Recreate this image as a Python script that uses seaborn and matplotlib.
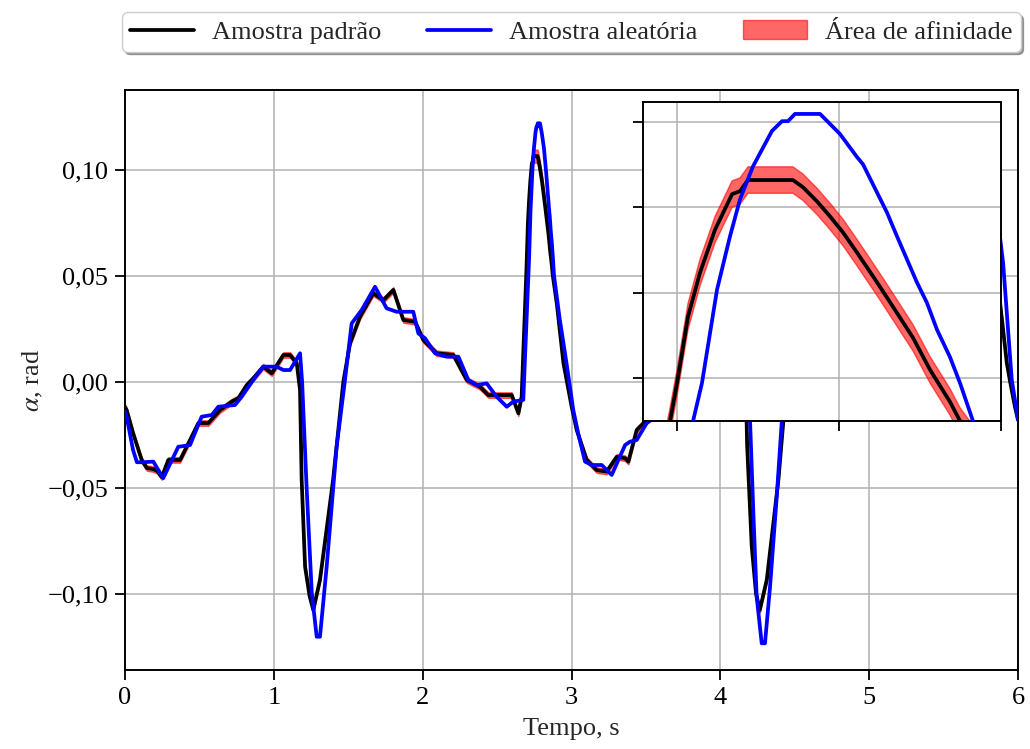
import matplotlib
matplotlib.use("Agg")
import numpy as np
import pandas as pd
import matplotlib.pyplot as plt
import seaborn as sns
from matplotlib.ticker import FuncFormatter

# ---------------- data ----------------
t_padrao = [0.0, 0.011, 0.054, 0.112, 0.146, 0.188, 0.215, 0.247, 0.291, 0.37, 0.437, 0.493, 0.56,
            0.638, 0.717, 0.761, 0.818, 0.862, 0.929, 0.986, 1.064, 1.109, 1.154, 1.176, 1.187,
            1.21, 1.24, 1.265, 1.31, 1.398, 1.467, 1.512, 1.579, 1.668, 1.736, 1.803, 1.87,
            1.949, 2.004, 2.094, 2.206, 2.296, 2.385, 2.441, 2.598, 2.643, 2.665, 2.6957, 2.7,
            2.7068, 2.7142, 2.7235, 2.734, 2.7389, 2.7438, 2.7716, 2.7778, 2.7864, 2.7944,
            2.8025, 2.8111, 2.8235, 2.8333, 2.8457, 2.8562, 2.8685, 2.8747, 2.901, 2.946,
            3.001, 3.035, 3.102, 3.169, 3.236, 3.304, 3.36, 3.382, 3.438, 3.483, 3.56, 3.64,
            3.72, 3.82, 3.93, 4.0, 4.07, 4.11, 4.155, 4.172, 4.18, 4.211, 4.24, 4.265, 4.312,
            4.39, 4.423, 4.46, 4.51, 4.58, 4.67, 4.74, 4.8, 4.87, 4.95, 5.0, 5.09, 5.2, 5.3,
            5.38, 5.44, 5.6, 5.64, 5.665, 5.70, 5.72, 5.745, 5.77, 5.8, 5.84, 5.88, 5.925,
            5.947, 5.98, 6.0]
alpha_padrao = [-0.012, -0.0134, -0.0242, -0.0369, -0.0407, -0.0412, -0.042, -0.045, -0.0369,
                -0.0369, -0.0275, -0.0195, -0.0195, -0.0134, -0.0094, -0.0078, -0.0016, 0.0016,
                0.0071, 0.004, 0.0126, 0.0126, 0.0087, -0.004, -0.0464, -0.0873, -0.101,
                -0.1077, -0.0935, -0.0464, 0.0, 0.0181, 0.0307, 0.0417, 0.0385, 0.0433, 0.0291,
                0.0283, 0.0197, 0.0134, 0.0126, 0.0008, -0.0024, -0.0063, -0.0063, -0.0149,
                -0.0071, 0.0499, 0.0588, 0.0744, 0.0847, 0.0948, 0.1031, 0.1038, 0.1064,
                0.1064, 0.1047, 0.1014, 0.0979, 0.0941, 0.0894, 0.0824, 0.0767, 0.0694, 0.0619,
                0.0544, 0.0499, 0.037, 0.0087, -0.0118, -0.0228, -0.0369, -0.0417, -0.0424,
                -0.0354, -0.0361, -0.0377, -0.0228, -0.0196, -0.0134, -0.011, -0.008, -0.002,
                0.006, 0.004, 0.012, 0.012, 0.0087, -0.004, -0.03, -0.0778, -0.100, -0.1077,
                -0.0935, -0.0464, -0.0189, 0.0, 0.018, 0.031, 0.042, 0.038, 0.043, 0.029, 0.028,
                0.02, 0.013, 0.012, 0.001, -0.002, -0.006, -0.006, -0.014, -0.007, 0.06, 0.085,
                0.104, 0.107, 0.1, 0.076, 0.037, 0.0087, 0.0, -0.012, -0.018]

t_aleatoria = [0.0, 0.011, 0.054, 0.08, 0.123, 0.19, 0.257, 0.358, 0.437, 0.515, 0.583, 0.627,
               0.739, 0.784, 0.862, 0.929, 1.019, 1.064, 1.109, 1.176, 1.19, 1.22, 1.255, 1.288,
               1.31, 1.355, 1.422, 1.478, 1.523, 1.59, 1.68, 1.758, 1.825, 1.937, 1.971, 2.016,
               2.083, 2.161, 2.24, 2.307, 2.363, 2.43, 2.497, 2.565, 2.609, 2.676, 2.7099,
               2.7154, 2.7247, 2.7327, 2.7389, 2.7469, 2.7586, 2.7648, 2.7685, 2.7728, 2.7883,
               2.8006, 2.8111, 2.8148, 2.8296, 2.8358, 2.8481, 2.8543, 2.8605, 2.8685, 2.8747,
               2.8827, 2.92, 2.968, 3.012, 3.05, 3.091, 3.136, 3.203, 3.27, 3.36, 3.393, 3.438,
               3.505, 3.58, 3.63, 3.74, 3.78, 3.86, 3.93, 4.02, 4.06, 4.11, 4.175, 4.19, 4.2,
               4.222, 4.244, 4.278, 4.3, 4.334, 4.379, 4.412, 4.45, 4.52, 4.59, 4.68, 4.76,
               4.83, 4.94, 4.97, 5.02, 5.08, 5.16, 5.24, 5.31, 5.36, 5.43, 5.5, 5.565, 5.61,
               5.67, 5.70, 5.72, 5.745, 5.765, 5.785, 5.81, 5.85, 5.9, 5.958, 6.0]
alpha_aleatoria = [-0.014, -0.0165, -0.0322, -0.038, -0.038, -0.0377, -0.0455, -0.0307, -0.0299,
                   -0.0165, -0.0157, -0.0118, -0.011, -0.0071, 0.0008, 0.0071, 0.0071, 0.0055,
                   0.0055, 0.0134, 0.0, -0.0495, -0.0997, -0.1203, -0.1203, -0.0873, -0.0307,
                   0.0008, 0.0275, 0.0338, 0.0448, 0.0346, 0.033, 0.033, 0.0228, 0.0205, 0.0134,
                   0.0118, 0.0118, 0.0008, -0.0016, -0.0008, -0.0071, -0.0118, -0.0094, -0.0086,
                   0.0499, 0.0588, 0.0807, 0.0932, 0.1019, 0.1096, 0.1179, 0.1202, 0.1202,
                   0.1219, 0.1219, 0.1172, 0.1118, 0.1101, 0.0988, 0.0932, 0.0824, 0.0776,
                   0.0713, 0.0649, 0.0588, 0.0499, 0.03, 0.008, -0.0134, -0.026, -0.0377,
                   -0.0393, -0.0393, -0.044, -0.0299, -0.0283, -0.0275, -0.0196, -0.0157,
                   -0.0118, -0.011, -0.007, 0.001, 0.007, 0.007, 0.0055, 0.0055, 0.0134, 0.0,
                   -0.0189, -0.0621, -0.1014, -0.1234, -0.1234, -0.0967, -0.0542, -0.0196,
                   0.005, 0.027, 0.034, 0.045, 0.035, 0.033, 0.033, 0.023, 0.02, 0.013, 0.012,
                   0.012, 0.001, -0.002, -0.001, -0.007, -0.012, -0.009, -0.008, 0.05, 0.08,
                   0.11, 0.122, 0.122, 0.11, 0.085, 0.056, 0.001, -0.018]

# half-width of the affinity band (knots in time)
t_largura = [0.0, 2.66, 2.69, 2.89, 2.92, 6.0]
meia_largura_afinidade = [0.0013, 0.0013, 0.0031, 0.0031, 0.0013, 0.0013]

rotulos = ["Amostra padrão", "Amostra aleatória", "Área de afinidade"]
xticks_principal = [0, 1, 2, 3, 4, 5, 6]
yticks_principal = [-0.10, -0.05, 0.0, 0.05, 0.10]
xticks_detalhe = [2.7, 2.8, 2.9]
yticks_detalhe = [0.06, 0.08, 0.10, 0.12]

# ---------------- style ----------------
sns.set_theme(style="ticks")
FS = 19
plt.rcParams.update({
    "font.family": ["Liberation Serif", "DejaVu Serif"],
    "mathtext.fontset": "stix",
    "font.size": FS,
    "axes.edgecolor": "black",
    "axes.linewidth": 1.4,
    "xtick.color": "black",
    "ytick.color": "black",
    "xtick.major.size": 7,
    "ytick.major.size": 7,
    "xtick.major.width": 1.3,
    "ytick.major.width": 1.3,
    "xtick.major.pad": 5,
    "ytick.major.pad": 5,
    "xtick.labelsize": FS,
    "ytick.labelsize": FS,
    "axes.labelsize": FS,
    "grid.color": "#b0b0b0",
    "grid.linewidth": 1.1,
    "axes.unicode_minus": True,
})

df_p = pd.DataFrame({"t": t_padrao, "a": alpha_padrao})
df_a = pd.DataFrame({"t": t_aleatoria, "a": alpha_aleatoria})
larg = np.interp(t_padrao, t_largura, meia_largura_afinidade)
inf = np.array(alpha_padrao) - larg
sup = np.array(alpha_padrao) + larg

fig = plt.figure(figsize=(10.3, 7.49), dpi=100)
ax = fig.add_axes([125 / 1030, 1 - 670 / 749, 893 / 1030, 580 / 749])

LW = 2.7


def desenhar(eixo, lw):
    eixo.fill_between(t_padrao, inf, sup, color="red", alpha=0.6, lw=1.0,
                      label=rotulos[2], zorder=2)
    sns.lineplot(data=df_p, x="t", y="a", ax=eixo, color="black", lw=lw,
                 estimator=None, sort=False, label=rotulos[0], zorder=3)
    sns.lineplot(data=df_a, x="t", y="a", ax=eixo, color="blue", lw=lw,
                 estimator=None, sort=False, label=rotulos[1], zorder=4)


desenhar(ax, LW)
ax.set_xlim(0, 6)
ax.set_ylim(-0.136, 0.1376)
ax.set_xticks(xticks_principal)
ax.set_yticks(yticks_principal)
ax.xaxis.set_major_formatter(FuncFormatter(lambda v, p: f"{v:.0f}"))
ax.yaxis.set_major_formatter(
    FuncFormatter(lambda v, p: f"{v:.2f}".replace(".", ",").replace("-", "\u2212")))
ax.grid(True)
ax.set_xlabel("Tempo, s", labelpad=7)
ax.set_ylabel(r"$\alpha$, rad", labelpad=2)

handles, labels = ax.get_legend_handles_labels()
ordem = [labels.index(r) for r in rotulos]
ax.legend([handles[i] for i in ordem], [labels[i] for i in ordem],
          loc="lower left", bbox_to_anchor=(-0.003, 1.066, 1.006, 0.07), mode="expand",
          ncol=3, shadow=True, fancybox=True, framealpha=1, edgecolor="#cccccc",
          fontsize=FS, borderaxespad=0.0, handlelength=2.4, borderpad=0.3,
          handletextpad=0.7)

# inset
axi = fig.add_axes([643 / 1030, 1 - 421 / 749, 358 / 1030, 319 / 749])
axi.set_facecolor("white")
desenhar(axi, LW)
axi.set_xlim(2.679, 2.9)
axi.set_ylim(0.0499, 0.1247)
axi.set_xticks(xticks_detalhe)
axi.set_yticks(yticks_detalhe)
axi.set_xticklabels([])
axi.set_yticklabels([])
axi.set_xlabel("")
axi.set_ylabel("")
axi.grid(True)
if axi.get_legend() is not None:
    axi.get_legend().remove()
for s in axi.spines.values():
    s.set_visible(True)
    s.set_linewidth(1.4)

fig.savefig("out.png", dpi=100)
